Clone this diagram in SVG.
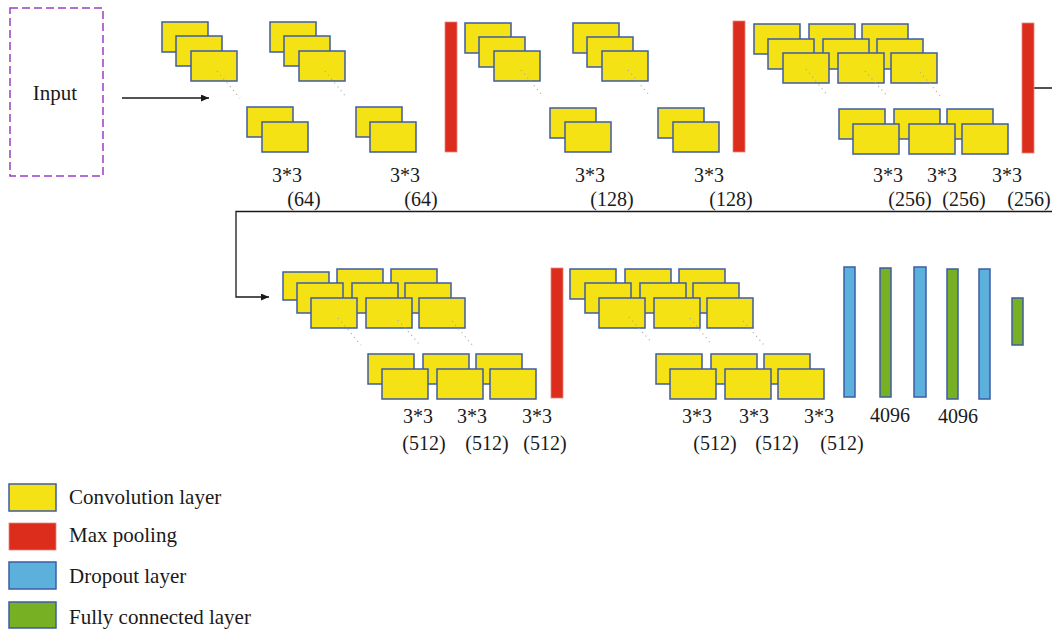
<svg xmlns="http://www.w3.org/2000/svg" width="1052" height="635" viewBox="0 0 1052 635">
  <style>
    .conv { fill: #F4E214; stroke: #3E5BA6; stroke-width: 1.5; }
    .pool { fill: #DC2C1C; stroke: #E9867E; stroke-width: 0.8; }
    .drop { fill: #5BB0DC; stroke: #3E5BA6; stroke-width: 1.5; }
    .fc   { fill: #78B024; stroke: #3E5BA6; stroke-width: 1.5; }
    .dots { stroke: #A8A8A8; stroke-width: 1.2; stroke-dasharray: 1 4; fill: none; }
    .lbl  { font-family: "Liberation Serif", "Times New Roman", serif; font-size: 20px; fill: #1a1a1a; text-anchor: middle; }
    .leg  { font-family: "Liberation Serif", "Times New Roman", serif; font-size: 21px; fill: #1a1a1a; }
    .wire { stroke: #1a1a1a; stroke-width: 1.3; fill: none; }
  </style>
  <defs>
    <marker id="arrow" markerWidth="9" markerHeight="8" refX="8" refY="3.5" orient="auto" markerUnits="userSpaceOnUse">
      <path d="M0,0 L8,3.5 L0,7 z" fill="#1a1a1a"/>
    </marker>
  </defs>

  <!-- input -->
  <g id="input">
    <rect x="10" y="8" width="93" height="168" fill="none" stroke="#9A3FC6" stroke-width="1.5" stroke-dasharray="8 4"/>
    <text class="leg" x="55" y="100" text-anchor="middle">Input</text>
  </g>

  <!-- connectors -->
  <g id="connectors">
    <path class="wire" d="M122,98 H209" marker-end="url(#arrow)"/>
    <path class="wire" d="M1034,88 H1062 V211.5 H236 V297 H269" marker-end="url(#arrow)"/>
  </g>

  <!-- block 1: two 3x3 conv, 64 -->
  <g id="conv1_1">
    <rect class="conv" x="162" y="22" width="46" height="30"/>
    <rect class="conv" x="176" y="36" width="46" height="30"/>
    <rect class="conv" x="191" y="51" width="46" height="30"/>
    <path class="dots" d="M217,71 L240,98"/>
    <rect class="conv" x="247" y="107" width="46" height="30"/>
    <rect class="conv" x="262" y="122" width="46" height="30"/>
  </g>
  <g id="conv1_2">
    <rect class="conv" x="270" y="22" width="46" height="30"/>
    <rect class="conv" x="284" y="36" width="46" height="30"/>
    <rect class="conv" x="299" y="51" width="46" height="30"/>
    <path class="dots" d="M325,71 L347,98"/>
    <rect class="conv" x="356" y="107" width="46" height="30"/>
    <rect class="conv" x="370" y="122" width="46" height="30"/>
  </g>
  <g id="pool1"><rect class="pool" x="445" y="22" width="12" height="130"/></g>

  <!-- block 2: two 3x3 conv, 128 -->
  <g id="conv2_1">
    <rect class="conv" x="465" y="23" width="46" height="30"/>
    <rect class="conv" x="479" y="37" width="46" height="30"/>
    <rect class="conv" x="494" y="51" width="46" height="30"/>
    <path class="dots" d="M521,70 L543,96"/>
    <rect class="conv" x="550" y="108" width="46" height="30"/>
    <rect class="conv" x="565" y="122" width="46" height="30"/>
  </g>
  <g id="conv2_2">
    <rect class="conv" x="573" y="23" width="46" height="30"/>
    <rect class="conv" x="587" y="37" width="46" height="30"/>
    <rect class="conv" x="602" y="51" width="46" height="30"/>
    <path class="dots" d="M628,70 L650,96"/>
    <rect class="conv" x="658" y="108" width="46" height="30"/>
    <rect class="conv" x="673" y="122" width="46" height="30"/>
  </g>
  <g id="pool2"><rect class="pool" x="733" y="21" width="12" height="131"/></g>

  <!-- block 3: three 3x3 conv, 256 -->
  <g id="conv3">
    <rect class="conv" x="754" y="24" width="46" height="30"/>
    <rect class="conv" x="809" y="24" width="46" height="30"/>
    <rect class="conv" x="862" y="24" width="46" height="30"/>
    <rect class="conv" x="768" y="39" width="46" height="30"/>
    <rect class="conv" x="823" y="39" width="46" height="30"/>
    <rect class="conv" x="877" y="39" width="46" height="30"/>
    <rect class="conv" x="783" y="53" width="46" height="30"/>
    <rect class="conv" x="838" y="53" width="46" height="30"/>
    <rect class="conv" x="891" y="53" width="46" height="30"/>
    <path class="dots" d="M806,69 L828,96 M865,71 L888,97 M920,72 L942,98"/>
    <rect class="conv" x="839" y="109" width="46" height="30"/>
    <rect class="conv" x="894" y="109" width="46" height="30"/>
    <rect class="conv" x="947" y="109" width="46" height="30"/>
    <rect class="conv" x="853" y="124" width="46" height="30"/>
    <rect class="conv" x="909" y="124" width="46" height="30"/>
    <rect class="conv" x="962" y="124" width="46" height="30"/>
  </g>
  <g id="pool3"><rect class="pool" x="1022" y="23" width="12" height="130"/></g>

  <!-- block 4: three 3x3 conv, 512 -->
  <g id="conv4">
    <rect class="conv" x="283" y="272" width="46" height="28"/>
    <rect class="conv" x="337" y="269" width="46" height="30"/>
    <rect class="conv" x="391" y="269" width="46" height="30"/>
    <rect class="conv" x="297" y="283" width="46" height="30"/>
    <rect class="conv" x="352" y="283" width="46" height="30"/>
    <rect class="conv" x="405" y="283" width="46" height="30"/>
    <rect class="conv" x="311" y="298" width="46" height="30"/>
    <rect class="conv" x="366" y="298" width="46" height="30"/>
    <rect class="conv" x="419" y="298" width="46" height="30"/>
    <path class="dots" d="M338,318 L361,345 M398,320 L420,345 M452,321 L474,347"/>
    <rect class="conv" x="368" y="354" width="46" height="30"/>
    <rect class="conv" x="423" y="354" width="46" height="30"/>
    <rect class="conv" x="476" y="354" width="46" height="30"/>
    <rect class="conv" x="382" y="369" width="46" height="30"/>
    <rect class="conv" x="437" y="369" width="46" height="30"/>
    <rect class="conv" x="490" y="369" width="46" height="30"/>
  </g>
  <g id="pool4"><rect class="pool" x="551" y="268" width="12" height="130"/></g>

  <!-- block 5: three 3x3 conv, 512 -->
  <g id="conv5">
    <rect class="conv" x="570" y="269" width="46" height="30"/>
    <rect class="conv" x="625" y="269" width="46" height="30"/>
    <rect class="conv" x="679" y="269" width="46" height="30"/>
    <rect class="conv" x="585" y="283" width="46" height="30"/>
    <rect class="conv" x="640" y="283" width="46" height="30"/>
    <rect class="conv" x="693" y="283" width="46" height="30"/>
    <rect class="conv" x="599" y="298" width="46" height="30"/>
    <rect class="conv" x="654" y="298" width="46" height="30"/>
    <rect class="conv" x="707" y="298" width="46" height="30"/>
    <path class="dots" d="M629,317 L652,343 M690,318 L712,345 M743,321 L765,346"/>
    <rect class="conv" x="656" y="354" width="46" height="30"/>
    <rect class="conv" x="711" y="354" width="46" height="30"/>
    <rect class="conv" x="764" y="354" width="46" height="30"/>
    <rect class="conv" x="670" y="369" width="46" height="30"/>
    <rect class="conv" x="725" y="369" width="46" height="30"/>
    <rect class="conv" x="778" y="369" width="46" height="30"/>
  </g>

  <!-- classifier head -->
  <g id="dropout1"><rect class="drop" x="844" y="267" width="11" height="130"/></g>
  <g id="fc1"><rect class="fc" x="880" y="268" width="11" height="129"/></g>
  <g id="dropout2"><rect class="drop" x="914" y="267" width="12" height="130"/></g>
  <g id="fc2"><rect class="fc" x="947" y="269" width="11" height="130"/></g>
  <g id="dropout3"><rect class="drop" x="979" y="269" width="11" height="130"/></g>
  <g id="fc3"><rect class="fc" x="1012" y="298" width="11" height="47"/></g>

  <!-- layer labels -->
  <g id="labels">
    <text class="lbl" x="287" y="182">3*3</text>
    <text class="lbl" x="405" y="182">3*3</text>
    <text class="lbl" x="590" y="182">3*3</text>
    <text class="lbl" x="709" y="182">3*3</text>
    <text class="lbl" x="888" y="182">3*3</text>
    <text class="lbl" x="942" y="182">3*3</text>
    <text class="lbl" x="1007" y="182">3*3</text>
    <text class="lbl" x="304" y="206">(64)</text>
    <text class="lbl" x="421" y="206">(64)</text>
    <text class="lbl" x="612" y="206">(128)</text>
    <text class="lbl" x="731" y="206">(128)</text>
    <text class="lbl" x="910" y="206">(256)</text>
    <text class="lbl" x="964" y="206">(256)</text>
    <text class="lbl" x="1029" y="206">(256)</text>
    <text class="lbl" x="418" y="423">3*3</text>
    <text class="lbl" x="472" y="423">3*3</text>
    <text class="lbl" x="537" y="423">3*3</text>
    <text class="lbl" x="697" y="423">3*3</text>
    <text class="lbl" x="754" y="423">3*3</text>
    <text class="lbl" x="819" y="423">3*3</text>
    <text class="lbl" x="424" y="450">(512)</text>
    <text class="lbl" x="487" y="450">(512)</text>
    <text class="lbl" x="545" y="450">(512)</text>
    <text class="lbl" x="715" y="450">(512)</text>
    <text class="lbl" x="777" y="450">(512)</text>
    <text class="lbl" x="842" y="450">(512)</text>
    <text class="lbl" x="890" y="422">4096</text>
    <text class="lbl" x="958" y="423">4096</text>
  </g>

  <!-- legend -->
  <g id="legend">
    <rect class="conv" x="9" y="484" width="47" height="27"/>
    <text class="leg" x="69" y="504">Convolution layer</text>
    <rect class="pool" x="9" y="523" width="47" height="27"/>
    <text class="leg" x="69" y="542">Max pooling</text>
    <rect class="drop" x="9" y="562" width="47" height="27"/>
    <text class="leg" x="69" y="583">Dropout layer</text>
    <rect class="fc" x="9" y="602" width="47" height="26"/>
    <text class="leg" x="69" y="624">Fully connected layer</text>
  </g>
</svg>
